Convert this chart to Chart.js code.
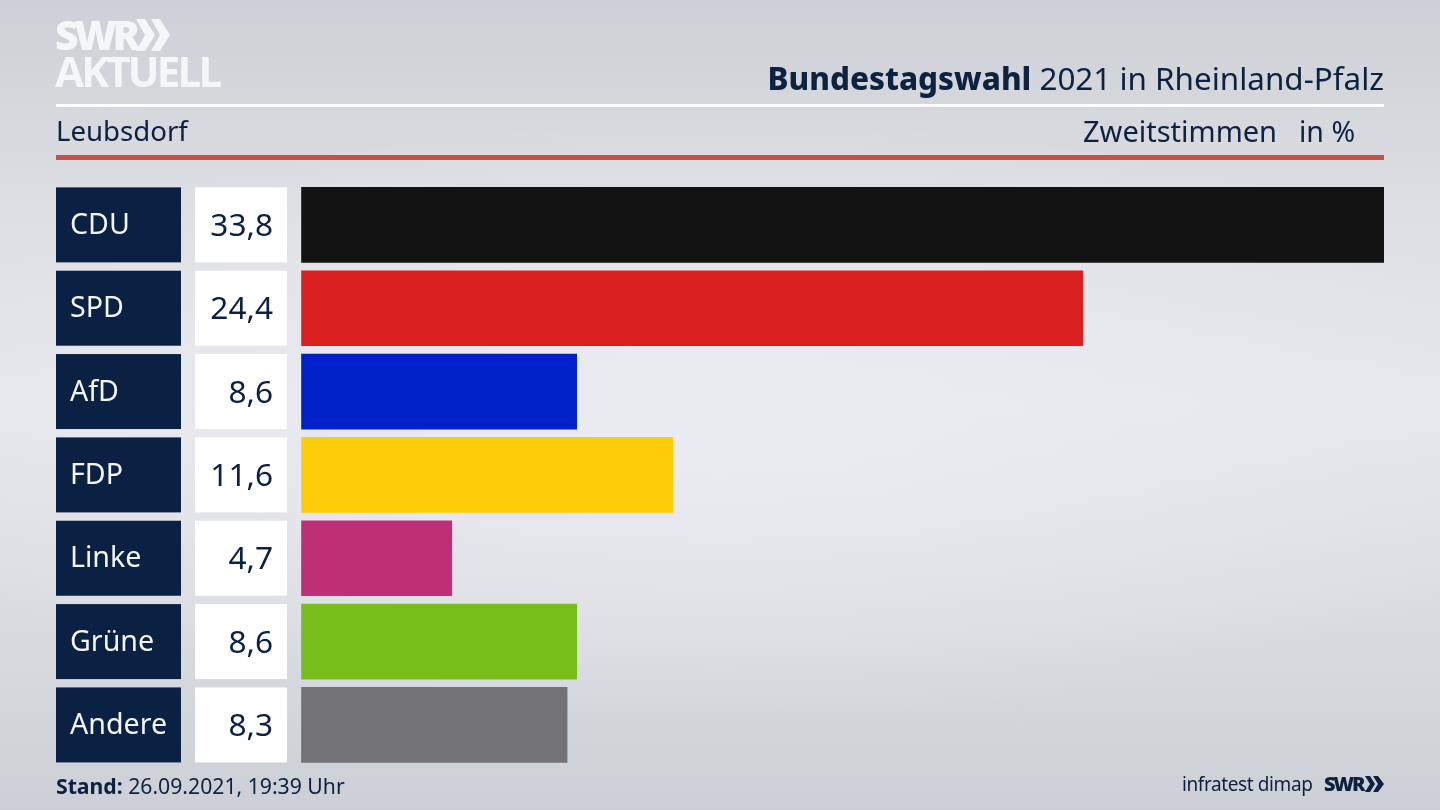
<!DOCTYPE html>
<html lang="de"><head><meta charset="utf-8">
<script src="https://cdn.jsdelivr.net/npm/chart.js@4"></script>
<style>
html,body{margin:0;padding:0;width:1440px;height:810px;overflow:hidden}
body{position:relative;font-family:"Noto Sans",sans-serif;color:#0d2140;
background:radial-gradient(ellipse 900px 300px at 720px 420px,#ebecf1 0%,rgba(235,236,241,0) 100%),linear-gradient(180deg,#cdd0d6 0%,#dcdee3 25%,#e6e7ec 50%,#dadce1 75%,#ccd0d6 100%)}
canvas{position:absolute;left:0;top:0}
.t{position:absolute;white-space:nowrap;line-height:1}
.r{position:absolute;left:56px;width:1328px}
</style></head><body>
<canvas id="c" width="1440" height="810"></canvas>
<div class="t" style="left:55px;top:14px;font:800 41px/1 'Open Sans',sans-serif;color:#f5f6f8;letter-spacing:-4.4px">SWR</div>
<svg style="position:absolute;left:136px;top:19px" width="36" height="34"><polygon fill="#f5f6f8" points="0,0 9,0 19,16 9,32 0,32 9,16"/><polygon fill="#f5f6f8" points="15,0 24,0 34,16 24,32 15,32 24,16"/></svg>
<div class="t" style="left:55px;top:50px;font:700 42px/1 'Open Sans',sans-serif;color:#f5f6f8;letter-spacing:-2.8px">AKTUELL</div>
<div class="t" style="right:56px;top:62px;font-size:31.4px;"><b style="font-weight:800;font-family:'Noto Sans'">Bundestagswahl</b> 2021 in Rheinland-Pfalz</div>
<div class="r" style="top:104px;height:3px;background:#fbfbfc"></div>
<div class="t" style="left:56px;top:117px;font-size:27.6px">Leubsdorf</div>
<div class="t" style="left:1083px;top:116px;font-size:29px">Zweitstimmen</div>
<div class="t" style="left:1299px;top:117px;font-size:28.5px">in %</div>
<div class="r" style="top:155px;height:5px;background:#c94f3f"></div>
<div class="t" style="left:56px;top:775px;font-size:21.2px"><b>Stand:</b> 26.09.2021, 19:39 Uhr</div>
<div class="t" style="left:1182px;top:775px;font-size:19px;letter-spacing:-.4px">infratest dimap</div>
<div class="t" style="left:1324px;top:774px;font:800 20px/1 'Open Sans',sans-serif;letter-spacing:-2.2px">SWR</div>
<svg style="position:absolute;left:1365px;top:776px" width="20" height="17"><polygon fill="#0d2140" points="0,0 5,0 10,8 5,16 0,16 5,8"/><polygon fill="#0d2140" points="8,0 13,0 19,8 13,16 8,16 13,8"/></svg>
<script>
const categories=["CDU","SPD","AfD","FDP","Linke","Grüne","Andere"];
const values=[33.8,24.4,8.6,11.6,4.7,8.6,8.3];
const valueLabels=["33,8","24,4","8,6","11,6","4,7","8,6","8,3"];
const barColors=["#131313","#da201f","#0021c8","#ffcd08","#bf2f75","#78be1a","#727274"];
const navy="#0b2143";
const rowLabels={id:"rowLabels",afterDatasetsDraw(ch){
  const g=ch.ctx,y=ch.scales.y;
  g.save();
  categories.forEach((name,i)=>{
    const top=y.getPixelForValue(i)-37.5;
    g.fillStyle=navy;g.fillRect(56,top,125,75);
    g.fillStyle="#ffffff";g.fillRect(195,top,92,75);
    g.textBaseline="middle";
    g.font='28.6px "Noto Sans"';
    g.textAlign="left";g.fillStyle="#f4f5f7";g.fillText(name,70,top+38.5);
    g.font='31.6px "Noto Sans"';
    g.textAlign="right";g.fillStyle=navy;g.fillText(valueLabels[i],273,top+39.5);
  });
  g.restore();
}};
new Chart(document.getElementById("c"),{
  type:"bar",
  data:{labels:categories,datasets:[{data:values,backgroundColor:barColors,barThickness:75,borderWidth:0}]},
  options:{indexAxis:"y",responsive:false,animation:false,
    layout:{padding:{left:301.2,right:56,top:183.2,bottom:43.4}},
    plugins:{legend:{display:false},tooltip:{enabled:false}},
    scales:{x:{display:false,min:0,max:33.8},y:{display:false}}},
  plugins:[rowLabels]
});
</script>
</body></html>
